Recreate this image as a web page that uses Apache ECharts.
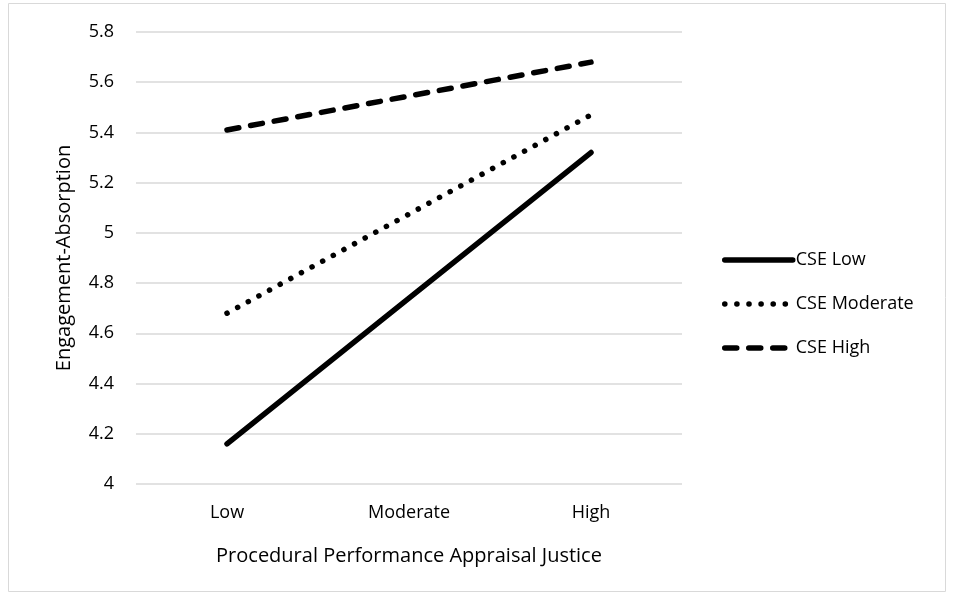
<!DOCTYPE html>
<html>
<head>
<meta charset="utf-8">
<script src="https://cdn.jsdelivr.net/npm/echarts@6/dist/echarts.min.js"></script>
<style>
html, body { margin: 0; padding: 0; background: #fff; }
#chart { width: 954px; height: 600px; }
</style>
</head>
<body>
<div id="chart"></div>
<script>
// x categories
var categories = ['Low', 'Moderate', 'High'];
// series values
var cseLow = [4.16, 4.74, 5.32];
var cseModerate = [4.68, 5.075, 5.47];
var cseHigh = [5.41, 5.545, 5.68];
var seriesNames = ['CSE Low', 'CSE Moderate', 'CSE High'];

var fontFam = '"Open Sans", "Noto Sans", sans-serif';
var lineW = 5.5;
// 线型: 实线 / 点线 / 虚线
var lineTypes = ['solid', [0.1, 12], [12, 12]];

var myChart = echarts.init(document.getElementById('chart'));

var option = {
	animation : false,
	textStyle : { fontFamily : fontFam },
	graphic : [ {
		type : 'rect',
		shape : { x : 8.5, y : 3.5, width : 937, height : 588 },
		style : { fill : 'none', stroke : '#d9d9d9', lineWidth : 1 },
		silent : true
	} ],
	grid : {
		left : 136,
		right : 954 - 682,
		top : 32,
		bottom : 600 - 484
	},
	legend : {
		orient : 'vertical',
		left : 717,
		top : 246,
		itemWidth : 68,
		itemHeight : 12,
		itemGap : 26,
		itemStyle : { opacity : 0 },
		textStyle : { fontSize : 18, color : '#000', fontFamily : fontFam, padding : [0, 0, 0, -2] },
		data : seriesNames.map(function(n, i) {
			return {
				name : n,
				lineStyle : { width : lineW, type : lineTypes[i], cap : 'round', color : '#000' }
			};
		})
	},
	xAxis : {
		type : 'category',
		data : categories,
		name : 'Procedural Performance Appraisal Justice',
		nameLocation : 'middle',
		nameGap : 62,
		nameTextStyle : { fontSize : 20, color : '#000' },
		axisLine : { show : false },
		axisTick : { show : false },
		axisLabel : { fontSize : 18, color : '#000', margin : 20 }
	},
	yAxis : {
		type : 'value',
		min : 4,
		max : 5.8,
		interval : 0.2,
		name : 'Engagement-Absorption',
		nameLocation : 'middle',
		nameGap : 62,
		nameTextStyle : { fontSize : 20, color : '#000' },
		axisLabel : {
			fontSize : 18,
			color : '#000',
			margin : 22,
			formatter : function(v) { return String(+v.toFixed(1)); }
		},
		splitLine : { lineStyle : { color : '#d9d9d9', width : 1.5 } }
	},
	series : seriesNames.map(function(n, i) {
		return {
			name : n,
			type : 'line',
			data : [cseLow, cseModerate, cseHigh][i],
			symbol : 'none',
			lineStyle : { color : '#000', width : lineW, type : lineTypes[i], cap : 'round' },
			itemStyle : { color : '#000' }
		};
	})
};
myChart.setOption(option);
</script>
</body>
</html>
